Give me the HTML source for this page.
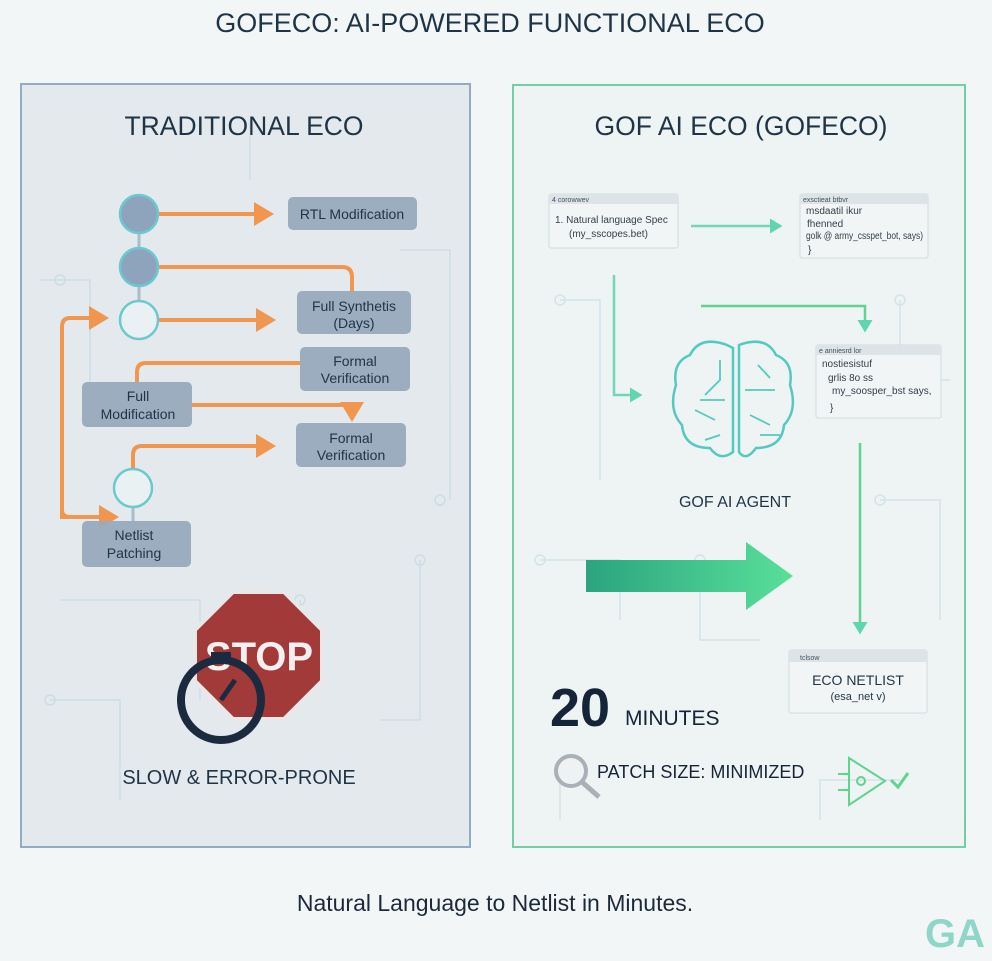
<!DOCTYPE html>
<html><head><meta charset="utf-8"><style>
html,body{margin:0;padding:0;background:#f3f6f7;}
svg{display:block;font-family:"Liberation Sans",sans-serif;}
</style></head><body>
<svg width="992" height="961" viewBox="0 0 992 961" xmlns="http://www.w3.org/2000/svg">
<defs>
<marker id="oa" markerWidth="6" markerHeight="6" refX="4" refY="3" orient="auto" markerUnits="strokeWidth"><path d="M0,0 L5,3 L0,6 z" fill="#f0964e"/></marker>
<marker id="ga" markerWidth="6" markerHeight="6" refX="4" refY="3" orient="auto" markerUnits="strokeWidth"><path d="M0,0 L5,3 L0,6 z" fill="#5fd6ae"/></marker>
<linearGradient id="bg" x1="0" x2="1"><stop offset="0" stop-color="#2aa47f"/><stop offset="1" stop-color="#59e09a"/></linearGradient>
</defs>
<rect width="992" height="961" fill="#f3f6f7"/>
<text x="490" y="32" text-anchor="middle" font-size="27" fill="#1f3447">GOFECO: AI-POWERED FUNCTIONAL ECO</text>

<!-- left panel -->
<rect x="21" y="84" width="449" height="763" fill="#e4e9ee" stroke="#95abc4" stroke-width="2"/>
<g stroke="#c7dbe3" stroke-width="1.5" fill="none" opacity="0.8">
<path d="M40 280 H90 V420 M60 600 H200 V700 M420 560 V720 H380 M300 600 V680 M250 120 V180 M400 250 H450 V500 M50 700 H120 V800"/>
<circle cx="60" cy="280" r="5"/><circle cx="420" cy="560" r="5"/><circle cx="300" cy="600" r="5"/><circle cx="50" cy="700" r="5"/><circle cx="440" cy="500" r="5"/>
</g>
<text x="244" y="135" text-anchor="middle" font-size="26.5" fill="#1f3447">TRADITIONAL ECO</text>
<g stroke="#f0964e" stroke-width="4" fill="none">
<path d="M159 214 H270" marker-end="url(#oa)"/>
<path d="M159 267 H342 Q352 267 352 277 V291"/>
<path d="M159 320 H272" marker-end="url(#oa)"/>
<path d="M100 517 H62 V327 Q62 318 70 318 H105" marker-end="url(#oa)"/>
<path d="M62 500 V510 Q62 517 70 517 H115" marker-end="url(#oa)"/>
<path d="M137 382 V372 Q137 363 146 363 H300"/>
<path d="M192 405 H342 Q352 405 352 415 V418" marker-end="url(#oa)"/>
<path d="M133 469 V455 Q133 446 142 446 H272" marker-end="url(#oa)"/>
</g>
<line x1="139" y1="233" x2="139" y2="301" stroke="#a8bccb" stroke-width="3"/>
<line x1="133" y1="507" x2="133" y2="521" stroke="#a8bccb" stroke-width="3"/>
<g stroke="#6cc9cf" stroke-width="2.5">
<circle cx="139" cy="214" r="19" fill="#8ea4bc"/>
<circle cx="139" cy="267" r="19" fill="#8ea4bc"/>
<circle cx="139" cy="320" r="19" fill="#eaf1f3"/>
<circle cx="133" cy="488" r="19" fill="#eaf1f3"/>
</g>
<g fill="#98aabd" opacity="0.95">
<rect x="288" y="197" width="129" height="33" rx="5"/>
<rect x="297" y="291" width="114" height="43" rx="5"/>
<rect x="300" y="347" width="110" height="44" rx="5"/>
<rect x="82" y="382" width="110" height="45" rx="5"/>
<rect x="296" y="423" width="110" height="44" rx="5"/>
<rect x="82" y="521" width="109" height="46" rx="5"/>
</g>
<g font-size="14" fill="#1f3447" text-anchor="middle">
<text x="352" y="219">RTL Modification</text>
<text x="354" y="311">Full Synthetis</text><text x="354" y="328">(Days)</text>
<text x="355" y="366">Formal</text><text x="355" y="383">Verification</text>
<text x="138" y="401">Full</text><text x="138" y="419">Modification</text>
<text x="351" y="443">Formal</text><text x="351" y="460">Verification</text>
<text x="134" y="540">Netlist</text><text x="134" y="558">Patching</text>
</g>
<!-- stop sign -->
<polygon points="233,592 284,592 322,630 322,681 284,719 233,719 195,681 195,630" fill="#a23a3a" stroke="#e8e8e8" stroke-width="4"/>
<text x="259" y="670" text-anchor="middle" font-size="40" fill="#f5f0f0" font-weight="bold">STOP</text>
<circle cx="221" cy="700" r="40" fill="none" stroke="#1c2a3f" stroke-width="8"/>
<rect x="211" y="652" width="20" height="9" fill="#1c2a3f"/>
<path d="M221 700 L235 680" stroke="#1c2a3f" stroke-width="5"/>
<text x="239" y="784" text-anchor="middle" font-size="20" fill="#1f3447">SLOW &amp; ERROR-PRONE</text>

<!-- right panel -->
<rect x="513" y="85" width="452" height="762" fill="#eef3f4" stroke="#72cfa5" stroke-width="2"/>
<g stroke="#cfe3e8" stroke-width="1.5" fill="none" opacity="0.9">
<path d="M560 300 H600 V480 M900 300 V380 H950 M540 560 H620 V620 M700 560 V640 H760 M880 500 H940 V620 M560 820 V760 M820 820 V780 H900"/>
<circle cx="560" cy="300" r="5"/><circle cx="900" cy="300" r="5"/><circle cx="540" cy="560" r="5"/><circle cx="700" cy="560" r="5"/><circle cx="880" cy="500" r="5"/>
</g>
<text x="741" y="135" text-anchor="middle" font-size="26.5" fill="#1f3447">GOF AI ECO (GOFECO)</text>
<!-- code boxes -->
<g fill="#f2f5f6" stroke="#d2dbe0">
<rect x="549" y="194" width="129" height="54" rx="2"/>
<rect x="800" y="194" width="128" height="64" rx="2"/>
<rect x="816" y="345" width="125" height="73" rx="2"/>
<rect x="789" y="650" width="138" height="63" rx="2"/>
</g>
<g fill="#dde4e8">
<rect x="549" y="194" width="129" height="10"/><rect x="800" y="194" width="128" height="10"/>
<rect x="816" y="345" width="125" height="10"/><rect x="789" y="650" width="138" height="12"/>
</g>
<g font-size="7" fill="#44515c">
<text x="552" y="202">4 corowwev</text><text x="803" y="202">exsctieat btbvr</text>
<text x="819" y="353">e anniesrd lor</text><text x="800" y="660">tclsow</text>
</g>
<g font-size="10" fill="#333e48">
<text x="555" y="223">1. Natural language Spec</text><text x="569" y="237">(my_sscopes.bet)</text>
<text x="806" y="214">msdaatil ikur</text><text x="807" y="227">fhenned</text>
<text x="806" y="239" textLength="117" lengthAdjust="spacingAndGlyphs">golk @ army_csspet_bot, says)</text><text x="808" y="253">}</text>
<text x="822" y="367">nostiesistuf</text><text x="828" y="381">grlis  8o  ss</text>
<text x="832" y="394">my_soosper_bst says,</text><text x="830" y="411">}</text>
</g>
<text x="858" y="685" text-anchor="middle" font-size="14" fill="#1f3447">ECO NETLIST</text>
<text x="858" y="700" text-anchor="middle" font-size="11" fill="#1f3447">(esa_net v)</text>
<!-- green arrows -->
<g stroke="#6fd8b8" stroke-width="2.5" fill="none">
<path d="M691 226 H780" marker-end="url(#ga)"/>
<path d="M614 275 V395 H640" marker-end="url(#ga)"/>
</g>
<g stroke="#5fd48e" stroke-width="2.5" fill="none">
<path d="M701 306 H865 V330" marker-end="url(#ga)"/>
<path d="M860 443 V632" marker-end="url(#ga)"/>
</g>
<!-- brain -->
<g stroke="#55c9c0" stroke-width="2.5" fill="none">
<path d="M727 345 Q700 335 690 355 Q672 362 676 385 Q668 410 682 425 Q684 448 710 448 Q720 462 733 452 V348 Z"/>
<path d="M739 345 Q766 335 776 355 Q794 362 790 385 Q798 410 784 425 Q782 448 756 448 Q746 462 739 452 V348 Z"/>
<path d="M720 360 V380 L705 395 M725 400 H700 M715 420 L695 410 M720 435 L705 440 M758 365 L770 378 M745 390 H775 M750 415 L770 425 M760 435 H780" stroke-width="1.8"/>
</g>
<text x="735" y="507" text-anchor="middle" font-size="16" fill="#1f3447">GOF AI AGENT</text>
<!-- big arrow -->
<polygon points="586,560 746,560 746,542 793,576 746,610 746,592 586,592" fill="url(#bg)"/>
<text x="550" y="726" font-size="54" font-weight="bold" fill="#152436">20</text>
<text x="625" y="725" font-size="21" fill="#152436">MINUTES</text>
<circle cx="571" cy="771" r="15" fill="#eef2f3" stroke="#a9b1b8" stroke-width="4"/>
<line x1="582" y1="782" x2="599" y2="797" stroke="#a9b1b8" stroke-width="5"/>
<text x="597" y="778" font-size="18" fill="#152436">PATCH SIZE: MINIMIZED</text>
<g stroke="#5fd48e" stroke-width="2" fill="none">
<path d="M849 758 V805 L885 781 Z"/><circle cx="861" cy="781" r="4"/>
<path d="M838 774 H849 M838 790 H849"/>
<path d="M891 780 L898 787 L908 773" stroke-width="3"/>
</g>

<text x="495" y="911" text-anchor="middle" font-size="23" fill="#1a2a3a">Natural Language to Netlist in Minutes.</text>
<text x="955" y="947" text-anchor="middle" font-size="40" font-weight="bold" fill="#8fd6c8">GA</text>
</svg>
</body></html>
